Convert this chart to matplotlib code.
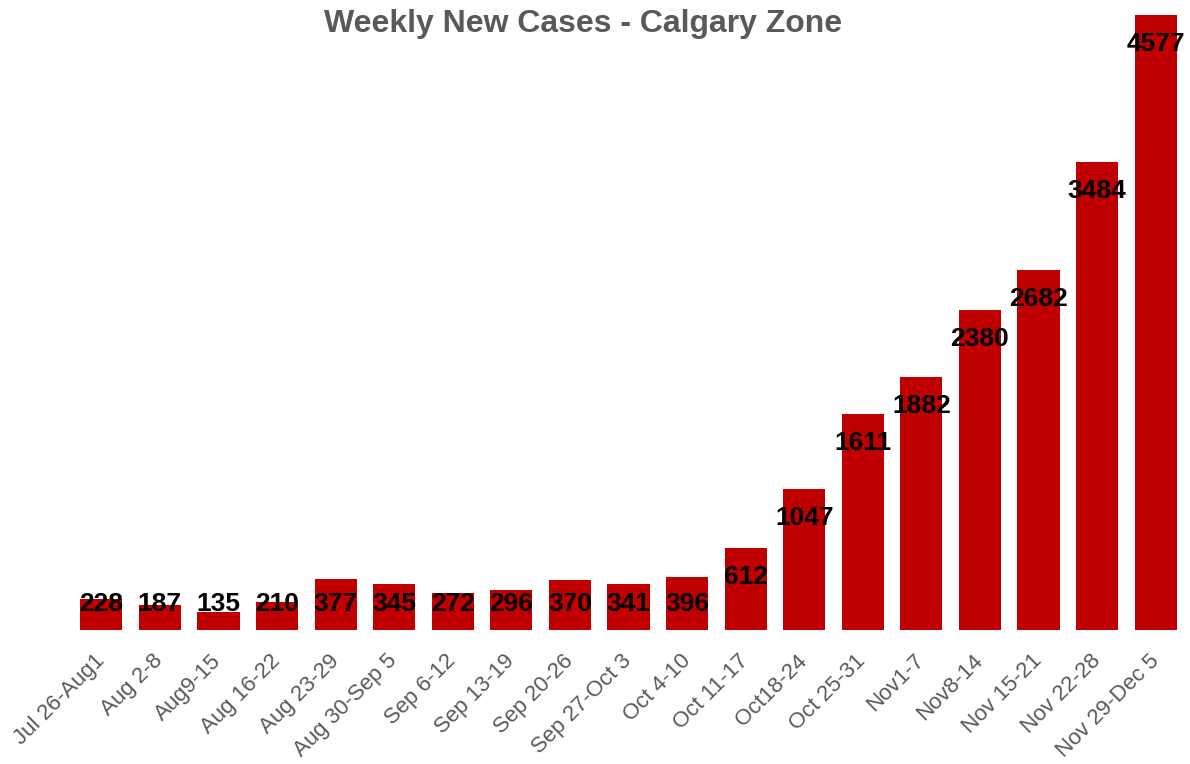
import numpy as np
import matplotlib.pyplot as plt

plt.rcParams['font.family'] = ['Liberation Sans', 'DejaVu Sans']

weeks = ['Jul 26-Aug1', 'Aug 2-8', 'Aug9-15', 'Aug 16-22', 'Aug 23-29',
         'Aug 30-Sep 5', 'Sep 6-12', 'Sep 13-19', 'Sep 20-26', 'Sep 27-Oct 3',
         'Oct 4-10', 'Oct 11-17', 'Oct18-24', 'Oct 25-31', 'Nov1-7',
         'Nov8-14', 'Nov 15-21', 'Nov 22-28', 'Nov 29-Dec 5']
cases = [228, 187, 135, 210, 377, 345, 272, 296, 370, 341,
         396, 612, 1047, 1611, 1882, 2380, 2682, 3484, 4577]

fig = plt.figure(figsize=(11.9, 7.64), dpi=100)
ax = fig.add_axes([72 / 1190, 1 - 630 / 764, 1113 / 1190, 615 / 764])

x = np.arange(len(cases))
ax.bar(x, cases, width=0.72, color='#C00000', zorder=2)

# labels sit inside the bar top, but never lower than a fixed floor
for xi, v in zip(x, cases):
    ax.text(xi, max(v - 216, 193), str(v), ha='center', va='center',
            fontsize=19, fontweight='bold', color='black', zorder=3)

ax.set_xlim(-0.5, len(cases) - 0.5)
ax.set_ylim(0, max(cases))
ax.set_xticks(x)
ax.set_xticklabels(weeks, rotation=45, ha='right', va='center',
                   rotation_mode='anchor', fontsize=16, color='#595959')
ax.tick_params(axis='x', length=0, pad=20)
ax.set_yticks([])
for s in ax.spines.values():
    s.set_visible(False)

fig.text(583 / 1190, 1 - 24 / 764, 'Weekly New Cases - Calgary Zone',
         ha='center', va='center', fontsize=23, fontweight='bold', color='#595959')

fig.savefig('out.png', dpi=100)
